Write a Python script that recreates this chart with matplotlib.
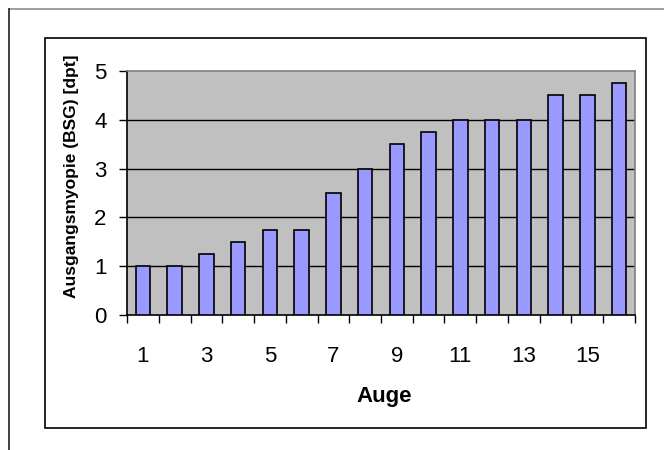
import matplotlib
matplotlib.use("Agg")
import matplotlib.pyplot as plt
from matplotlib.patches import Rectangle
from matplotlib.lines import Line2D
import numpy as np

plt.rcParams['font.family'] = ['Liberation Sans', 'DejaVu Sans']

eyes = list(range(1, 17))
myopia = [1, 1, 1.25, 1.5, 1.75, 1.75, 2.5, 3, 3.5, 3.75, 4, 4, 4, 4.5, 4.5, 4.75]
x_labels = ['1', '3', '5', '7', '9', '11', '13', '15']
y_ticks = [0, 1, 2, 3, 4, 5]

W, H = 664, 450
fig = plt.figure(figsize=(W / 100, H / 100), dpi=100)
fig.patch.set_facecolor('white')

def fx(px):
    return px / W

def fy(py):
    return 1 - py / H

# outer frame (only top and left edges fall within the canvas)
fig.add_artist(Line2D([fx(9), fx(664)], [fy(9), fy(9)], color='#8c8c8c', lw=1.2))
fig.add_artist(Line2D([fx(9), fx(9)], [fy(9), fy(450)], color='#202020', lw=1.2))

# chart box
fig.add_artist(Rectangle((fx(45), fy(428)), fx(645.5) - fx(45), fy(37.5) - fy(428),
                         fill=False, edgecolor='black', lw=1.2))

left, right, top, bottom = 127, 635, 71, 315
ax = fig.add_axes([fx(left), fy(bottom), fx(right) - fx(left), fy(top) - fy(bottom)])
ax.set_facecolor('#c0c0c0')

pos = np.arange(len(eyes))
ax.bar(pos, myopia, width=0.45, color='#9999ff', edgecolor='black', linewidth=1.2, zorder=3)

ax.set_xlim(-0.5, len(eyes) - 0.5)
ax.set_ylim(0, 5)

ax.set_yticks(y_ticks)
ax.set_yticklabels([str(t) for t in y_ticks], fontsize=16)
for t in y_ticks[1:-1]:
    ax.axhline(t, color='black', lw=1.0, zorder=1)

ax.set_xticks(np.arange(-0.5, len(eyes), 1.0))
ax.set_xticklabels([])
ax.set_xticks(pos[::2], minor=True)
ax.set_xticklabels(x_labels, minor=True, fontsize=16)
ax.tick_params(axis='x', which='major', direction='out', length=5.8, width=1, color='black')
ax.tick_params(axis='x', which='minor', length=0, pad=22)
ax.tick_params(axis='y', direction='out', length=5.8, width=1, color='black', pad=9)

for side in ('top', 'right'):
    ax.spines[side].set_color('#808080')
    ax.spines[side].set_linewidth(1.2)
for side in ('left', 'bottom'):
    ax.spines[side].set_color('black')
    ax.spines[side].set_linewidth(1.2)

ax.set_xlabel('Auge', fontsize=16, fontweight='bold', va='center')
ax.xaxis.set_label_coords(0.507, -0.335)
ax.set_ylabel('Ausgangsmyopie (BSG) [dpt]', fontsize=12.5, fontweight='bold', va='center')
ax.yaxis.set_label_coords(-0.110, 0.57)

fig.savefig('out.png', dpi=100, facecolor='white')
